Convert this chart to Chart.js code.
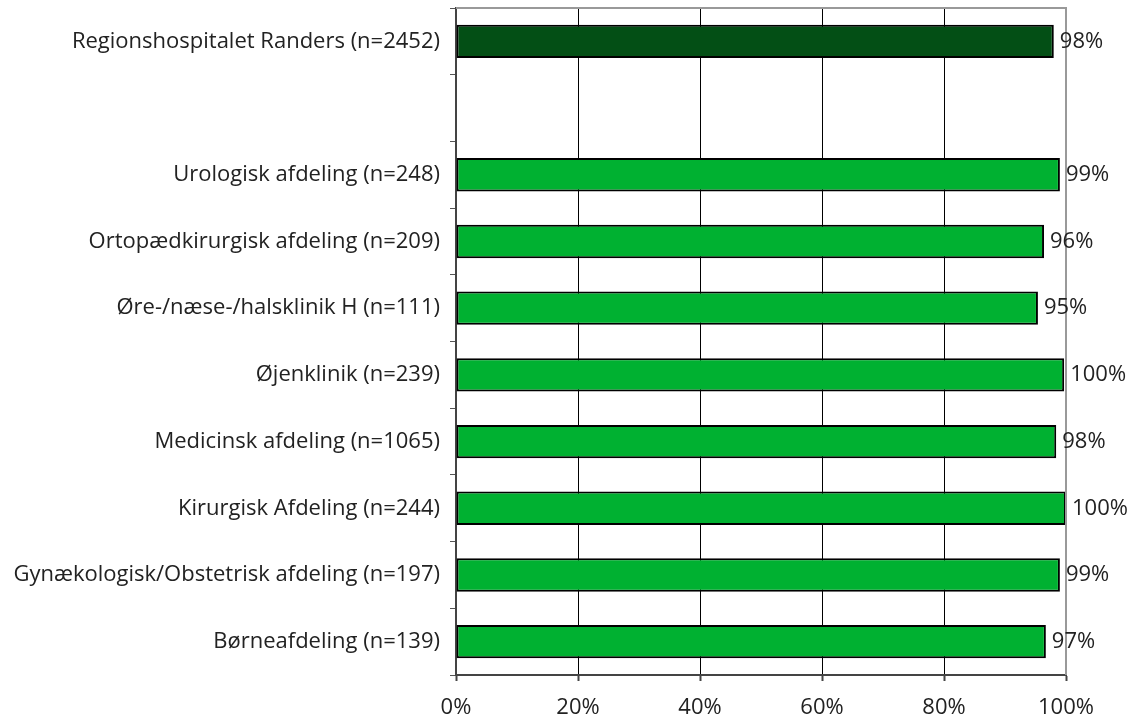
<!DOCTYPE html>
<html>
<head>
<meta charset="utf-8">
<script src="https://cdn.jsdelivr.net/npm/chart.js@4.4.1/dist/chart.umd.min.js"></script>
<style>
  html, body { margin: 0; padding: 0; background: #fff; }
  #wrap { width: 1134px; height: 722px; }
</style>
</head>
<body>
<div id="wrap"><canvas id="bars" width="1134" height="722"></canvas></div>
<script>
// data
const categories = [
  'Regionshospitalet Randers (n=2452)',
  '',
  'Urologisk afdeling (n=248)',
  'Ortopædkirurgisk afdeling (n=209)',
  'Øre-/næse-/halsklinik H (n=111)',
  'Øjenklinik (n=239)',
  'Medicinsk afdeling (n=1065)',
  'Kirurgisk Afdeling (n=244)',
  'Gynækologisk/Obstetrisk afdeling (n=197)',
  'Børneafdeling (n=139)'
];
const values = [98, null, 99, 96.4, 95.4, 99.7, 98.4, 100, 99, 96.7];
const valueLabels = ['98%', '', '99%', '96%', '95%', '100%', '98%', '100%', '99%', '97%'];
const xTicks = [0, 20, 40, 60, 80, 100];

const FONT = 'Open Sans';
const FONT_SIZE = 22;

//Value labels + top/right frame
const extras = {
  id: 'extras',
  afterDatasetsDraw(chart) {
    const ctx = chart.ctx;
    const area = chart.chartArea;
    ctx.save();
    ctx.strokeStyle = '#999';
    ctx.lineWidth = 2;
    ctx.beginPath();
    ctx.moveTo(area.left, area.top);
    ctx.lineTo(area.right, area.top);
    ctx.lineTo(area.right, area.bottom);
    ctx.stroke();

    const meta = chart.getDatasetMeta(0);
    ctx.fillStyle = '#222';
    ctx.font = FONT_SIZE + 'px "' + FONT + '"';
    ctx.textBaseline = 'middle';
    ctx.textAlign = 'left';
    meta.data.forEach((bar, i) => {
      if (values[i] == null) return;
      ctx.fillText(valueLabels[i], bar.x + 6, bar.y);
    });
    ctx.restore();
  }
};

const ctx = document.getElementById('bars').getContext('2d');
const chart = new Chart(ctx, {
  type: 'bar',
  data: {
    labels: categories,
    datasets: [{
      data: values,
      backgroundColor: categories.map((c, i) => i === 0 ? '#034f15' : '#00b131'),
      borderColor: '#000',
      borderWidth: 2,
      borderSkipped: false,
      categoryPercentage: 1,
      barPercentage: 0.5
    }]
  },
  options: {
    indexAxis: 'y',
    responsive: false,
    animation: false,
    layout: { padding: { top: 8, right: 68, left: 0, bottom: 0 } },
    plugins: { legend: { display: false }, tooltip: { enabled: false } },
    scales: {
      x: {
        min: 0,
        max: 100,
        afterBuildTicks: (axis) => { axis.ticks = xTicks.map(v => ({ value: v })); },
        afterFit: (axis) => {
          axis.height = 47;
          axis.paddingLeft = 0;
          axis.paddingRight = 0;
        },
        grid: {
          color: (c) => c.tick && c.tick.value === 100 ? '#999' : (c.tick && c.tick.value === 0 ? 'rgba(0,0,0,0)' : '#000'),
          lineWidth: 1,
          tickLength: 6,
          tickColor: '#444',
          tickWidth: 2
        },
        border: { color: '#444', width: 2 },
        ticks: {
          padding: 14,
          color: '#222',
          font: { family: FONT, size: FONT_SIZE },
          callback: (v) => v + '%'
        }
      },
      y: {
        afterFit: (axis) => {
          axis.width = 456;
          axis.paddingTop = 0;
          axis.paddingBottom = 0;
        },
        grid: {
          offset: true,
          drawOnChartArea: false,
          tickLength: 6,
          tickColor: '#555',
          tickWidth: 1
        },
        border: { color: '#444', width: 2 },
        ticks: {
          padding: 10,
          color: '#222',
          font: { family: FONT, size: FONT_SIZE }
        }
      }
    }
  },
  plugins: [extras]
});
</script>
</body>
</html>
